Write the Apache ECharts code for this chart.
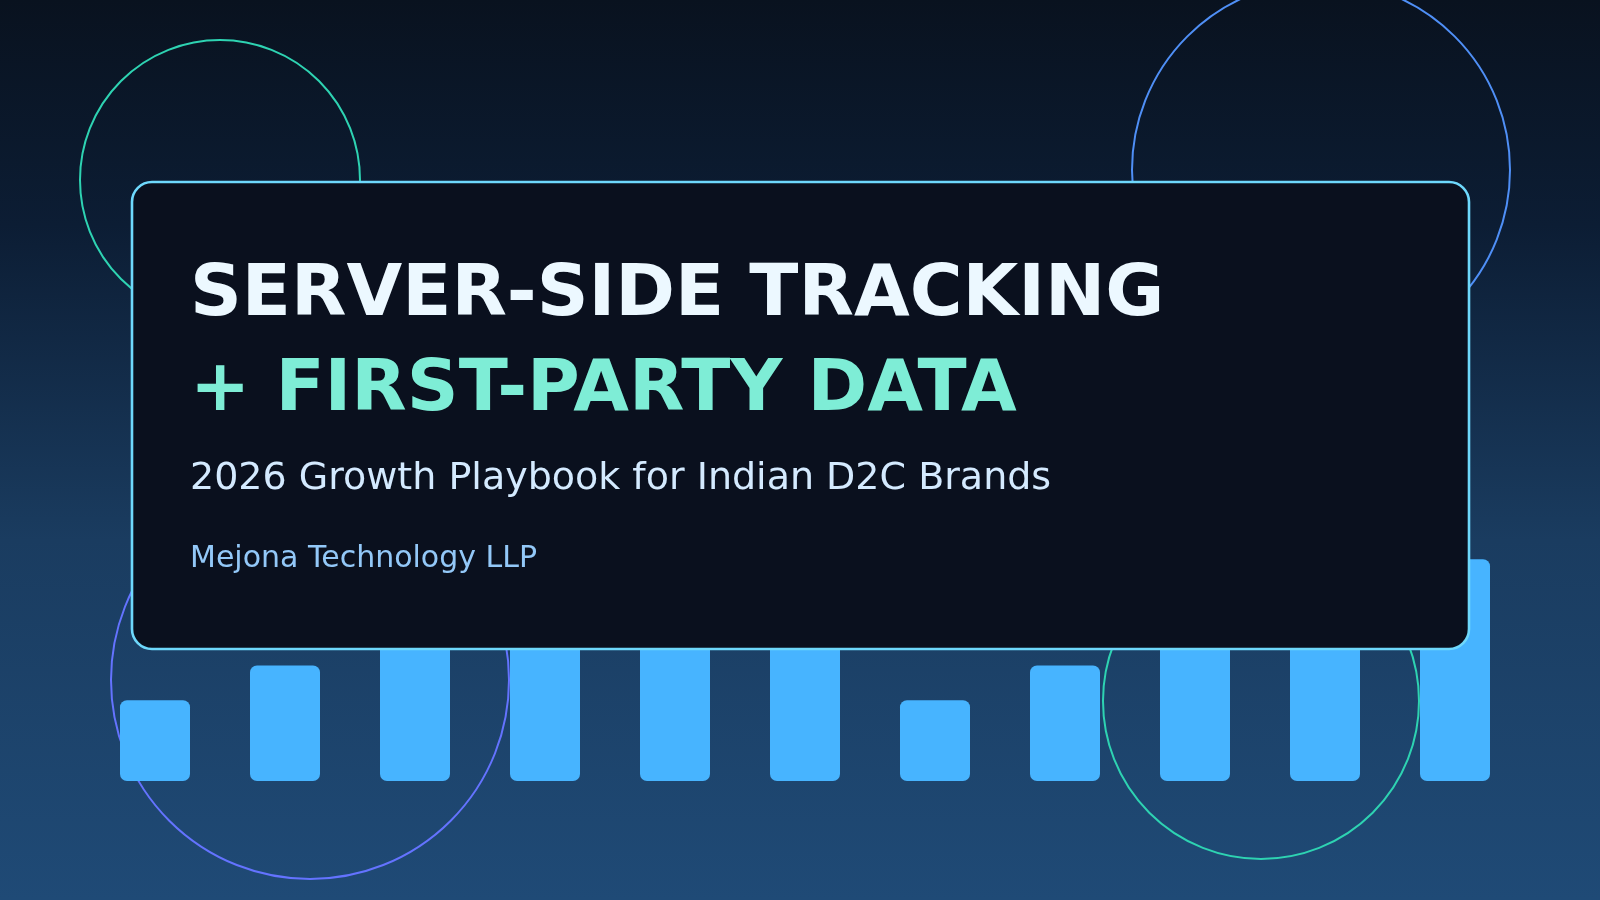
<!DOCTYPE html>
<html>
<head>
<meta charset="utf-8">
<script src="https://cdn.jsdelivr.net/npm/echarts@6/dist/echarts.min.js"></script>
<style>
html,body{margin:0;padding:0;width:1600px;height:900px;overflow:hidden;background:#0a1424;}
#chart{width:1600px;height:900px;}
</style>
</head>
<body>
<div id="chart"></div>
<script>
// Data
var categories = ['1','2','3','4','5','6','7','8','9','10','11'];
var barValues = [35, 50, 65, 80, 90, 85, 35, 50, 65, 80, 96];
var titleLine1 = 'SERVER-SIDE TRACKING';
var titleLine2 = '+ FIRST-PARTY DATA';
var subtitle = '2026 Growth Playbook for Indian D2C Brands';
var company = 'Mejona Technology LLP';

var chart = echarts.init(document.getElementById('chart'), null, {renderer:'canvas'});
var font = '"DejaVu Sans", sans-serif';

function ring(cx, cy, r, color) {
  return {
    type: 'circle', z: 1, silent: true,
    shape: {cx: cx, cy: cy, r: r},
    style: {fill: 'none', stroke: color, lineWidth: 2}
  };
}

var option = {
  animation: false,
  backgroundColor: {
    type: 'linear', x: 0, y: 0, x2: 0, y2: 1,
    colorStops: [
      {offset: 0, color: '#09121f'},
      {offset: 0.25, color: '#0c1d34'},
      {offset: 0.6, color: '#1a3c60'},
      {offset: 1, color: '#1f4a76'}
    ]
  },
  grid: {left: 90, right: 80, top: 550, bottom: 119},
  xAxis: {
    type: 'category', data: categories, show: false
  },
  yAxis: {
    type: 'value', min: 0, max: 100, show: false
  },
  series: [{
    type: 'bar', z: 2, data: barValues, barWidth: 70,
    itemStyle: {color: '#47b4ff', borderRadius: 7},
    silent: true
  }],
  graphic: [
    ring(220, 180, 140, '#2ed3b2'),
    ring(1321, 170, 189, '#4f8ff6'),
    ring(310, 680, 199, '#6473ff'),
    ring(1261, 701, 158, '#2ed3b2'),
    {
      type: 'rect', z: 10, silent: true,
      shape: {x: 132, y: 182, width: 1337, height: 467, r: 20},
      style: {fill: '#0a101e', stroke: '#6ed8fc', lineWidth: 2.6}
    },
    {
      type: 'text', z: 11, silent: true, x: 190, y: 296,
      style: {text: titleLine1, fill: '#ecf8ff', font: 'bold 72px ' + font, verticalAlign: 'middle', align: 'left'}
    },
    {
      type: 'text', z: 11, silent: true, x: 190, y: 391,
      style: {text: titleLine2, fill: '#7eedd6', font: 'bold 72px ' + font, verticalAlign: 'middle', align: 'left'}
    },
    {
      type: 'text', z: 11, silent: true, x: 190, y: 479,
      style: {text: subtitle, fill: '#d4eaff', font: '38px ' + font, verticalAlign: 'middle', align: 'left'}
    },
    {
      type: 'text', z: 11, silent: true, x: 190, y: 559,
      style: {text: company, fill: '#93c8f8', font: '30px ' + font, verticalAlign: 'middle', align: 'left'}
    }
  ]
};
chart.setOption(option);
</script>
</body>
</html>
